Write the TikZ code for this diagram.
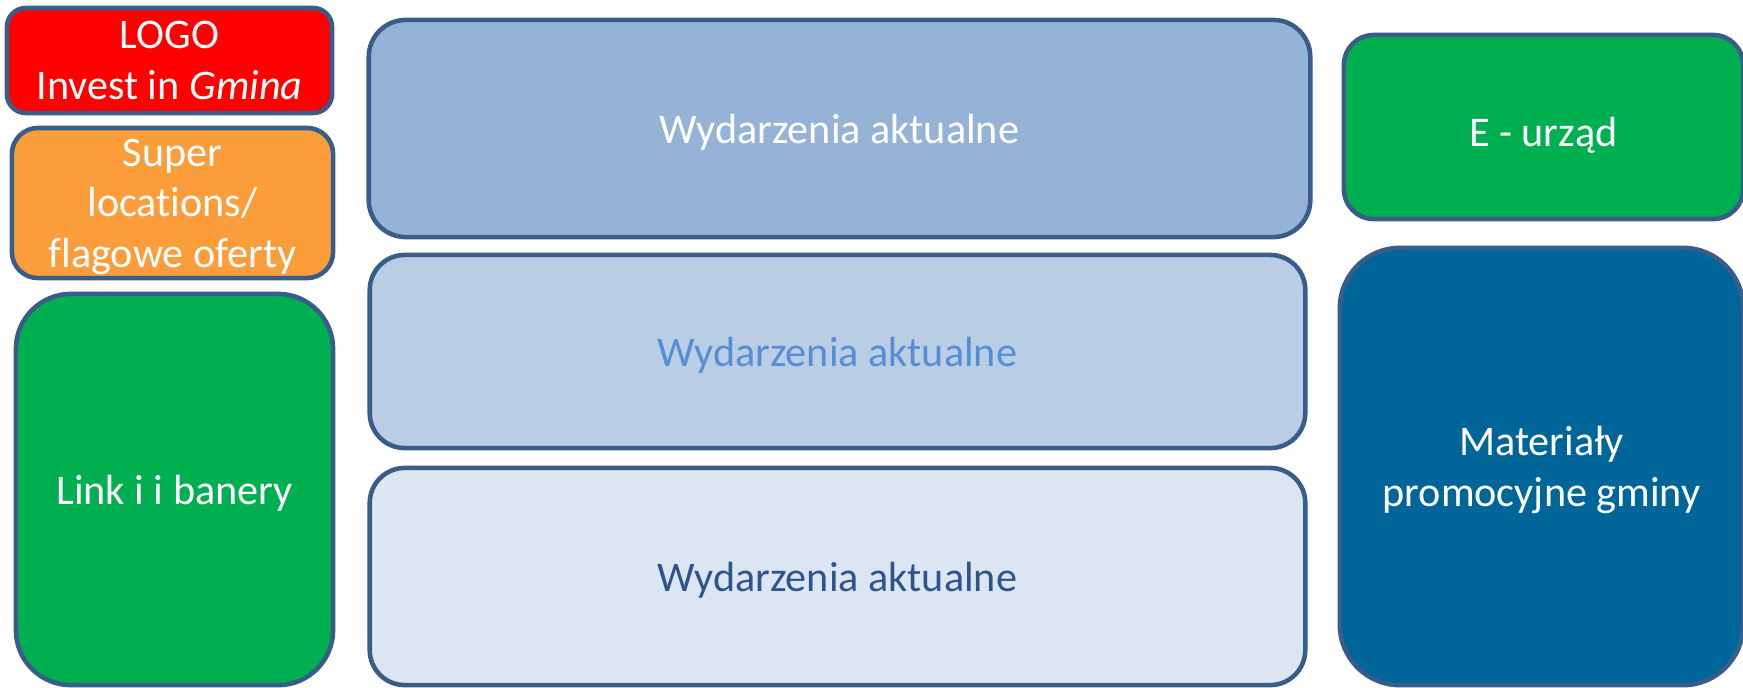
\documentclass[tikz,border=0pt]{standalone}
\usepackage{fontspec}
\setmainfont{Carlito}[Ligatures=NoCommon]
\definecolor{edgeblue}{RGB}{56, 93, 138}
\definecolor{logored}{RGB}{255, 0, 0}
\definecolor{superorange}{RGB}{250, 157, 58}
\definecolor{linkgreen}{RGB}{0, 176, 80}
\definecolor{newsdark}{RGB}{149, 179, 215}
\definecolor{newsmid}{RGB}{185, 205, 229}
\definecolor{newslight}{RGB}{220, 230, 242}
\definecolor{promoblue}{RGB}{0, 101, 153}
\definecolor{midtext}{RGB}{85, 142, 213}
\definecolor{lowtext}{RGB}{45, 85, 140}
\usepackage{tikz}
\tikzset{
  tile/.style={draw=edgeblue, line width=1.3pt, inner sep=0pt, align=center,
    text=white, text depth=0pt, font=\fontsize{12}{14.4}\selectfont},
  sunk/.style={execute at begin node={\rule{0pt}{11pt}}}
}

\begin{document}
\begin{tikzpicture}[x=0.01cm, y=-0.01cm]
  \clip (0,0) rectangle (1743,687);

  % Left column
  \node[tile, sunk, fill=logored, rounded corners=0.19cm, minimum width=3.25cm, minimum height=1.05cm] (logo) at (169.5, 60.5) {LOGO\\Invest in \textit{Gmina}};
  \node[tile, sunk, fill=superorange, rounded corners=0.26cm, minimum width=3.21cm, minimum height=1.50cm] (super) at (172.5, 203) {Super\\locations/\\flagowe oferty};
  \node[tile, fill=linkgreen, rounded corners=0.55cm, minimum width=3.17cm, minimum height=3.91cm] (links) at (174.5, 489.5) {Link i i banery};

  % News column
  \node[tile, fill=newsdark, rounded corners=0.37cm, minimum width=9.41cm, minimum height=2.17cm] (news1) at (839.5, 128.5) {Wydarzenia aktualne};
  \node[tile, fill=newsmid, text=midtext, rounded corners=0.35cm, minimum width=9.35cm, minimum height=1.93cm] (news2) at (837.5, 351.5) {Wydarzenia aktualne};
  \node[tile, fill=newslight, text=lowtext, rounded corners=0.35cm, minimum width=9.35cm, minimum height=2.17cm] (news3) at (837.5, 576.5) {Wydarzenia aktualne};

  % Right column
  \node[tile, sunk, fill=linkgreen, rounded corners=0.30cm, minimum width=3.99cm, minimum height=1.84cm] (eoffice) at (1543.5, 127) {E - urząd};
  \node[tile, sunk, fill=promoblue, rounded corners=0.60cm, minimum width=4.03cm, minimum height=4.37cm] (promo) at (1541.5, 466.5) {Materiały\\promocyjne gminy};
\end{tikzpicture}
\end{document}
